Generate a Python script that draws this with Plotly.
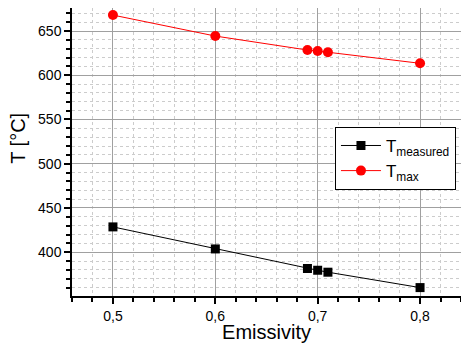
import plotly.graph_objects as go

emissivity = [0.5, 0.6, 0.69, 0.7, 0.71, 0.8]
t_measured = [428.6, 403.7, 381.6, 379.6, 377.4, 360.0]
t_max = [668.0, 644.3, 628.5, 627.4, 626.0, 613.5]

fig = go.Figure()
fig.add_trace(go.Scatter(x=emissivity, y=t_measured, mode="lines+markers",
                         name="T<sub>measured</sub>",
                         line=dict(color="black", width=1),
                         marker=dict(symbol="square", size=9, color="black")))
fig.add_trace(go.Scatter(x=emissivity, y=t_max, mode="lines+markers",
                         name="T<sub>max</sub>",
                         line=dict(color="red", width=1),
                         marker=dict(symbol="circle", size=10, color="red")))

font = "Liberation Sans, Arial, sans-serif"
axis_common = dict(showline=True, linecolor="black", linewidth=1.5,
                   ticks="outside", tickcolor="black", ticklen=6, tickwidth=1.5,
                   showgrid=True, gridcolor="#a0a0a0", gridwidth=1,
                   zeroline=False, mirror=False, automargin=False,
                   tickfont=dict(family=font, size=14, color="black"))

fig.update_layout(
    width=461, height=343,
    margin=dict(l=72, r=0, t=8, b=47),
    paper_bgcolor="white", plot_bgcolor="white",
    separators=",.",
    showlegend=True,
    legend=dict(x=0.676, y=0.587, xanchor="left", yanchor="top",
                bordercolor="black", borderwidth=1, bgcolor="white",
                font=dict(family=font, size=17, color="black"),
                tracegroupgap=0, itemwidth=40),
    xaxis=dict(axis_common, range=[0.46, 0.84], dtick=0.1, tick0=0.5, tickformat=".1f",
               title=dict(text="Emissivity", font=dict(family=font, size=20, color="black"), standoff=16),
               minor=dict(dtick=0.02, tick0=0.5, ticks="outside", ticklen=4, tickcolor="black",
                          showgrid=True, gridcolor="#cccccc", griddash="dot", gridwidth=1)),
    yaxis=dict(axis_common, range=[350.5, 676], dtick=50, tick0=400,
               minor=dict(dtick=10, tick0=400, ticks="outside", ticklen=4, tickcolor="black",
                          showgrid=True, gridcolor="#cccccc", griddash="dot", gridwidth=1)),
    annotations=[dict(text="T [°C]", textangle=-90, xref="paper", yref="paper",
                      x=-0.139, y=0.549, xanchor="center", yanchor="middle",
                      showarrow=False, font=dict(family=font, size=20, color="black"))],
)

fig.write_html("out.html")
